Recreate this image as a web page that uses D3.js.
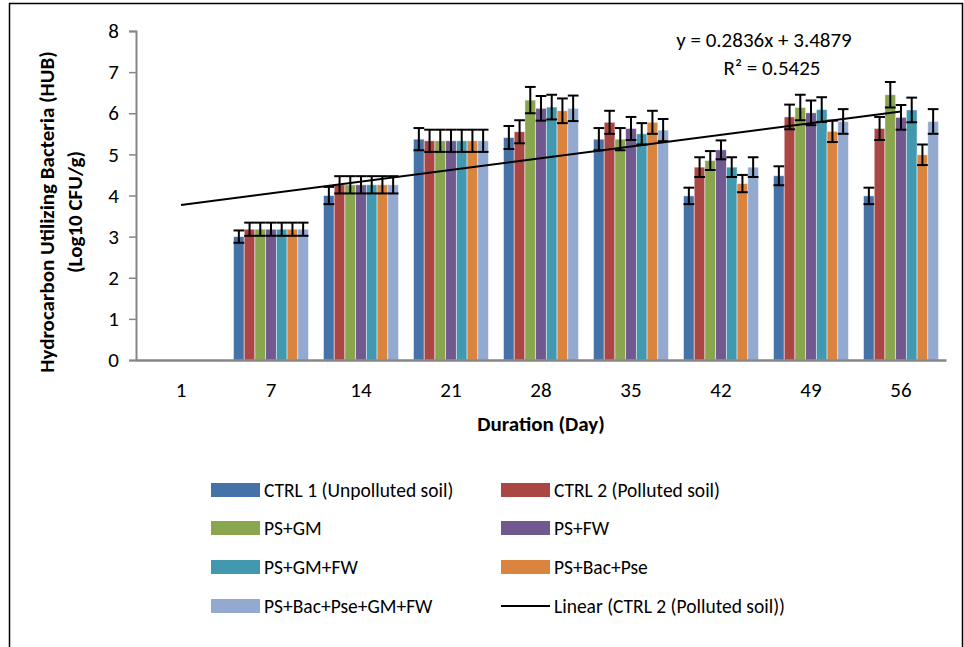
<!DOCTYPE html>
<html>
<head>
    <meta charset="utf-8" />
    <title>HUB counts</title>
    <script src="https://d3js.org/d3.v7.min.js"></script>
    <style>
        body { margin: 0; background: #fff; }
        text { font-family: Carlito, Lato, "Open Sans", sans-serif; fill: #000; }
    </style>
</head>
<body>
    <svg id="chart"></svg>
    <script>
        // days of sampling
        var days = ['1', '7', '14', '21', '28', '35', '42', '49', '56']
        var series = ['CTRL 1 (Unpolluted soil)', 'CTRL 2 (Polluted soil)', 'PS+GM', 'PS+FW',
            'PS+GM+FW', 'PS+Bac+Pse', 'PS+Bac+Pse+GM+FW']
        var colors = ['#4572A7', '#AA4643', '#89A54E', '#71588F', '#4198AF', '#DB843D', '#93A9CF']

        // mean values per series (one value per day)
        var ctrl1 = [0, 3.00, 4.00, 5.37, 5.41, 5.37, 3.99, 4.48, 3.99]
        var ctrl2 = [0, 3.18, 4.26, 5.33, 5.55, 5.78, 4.69, 5.91, 5.63]
        var psGm = [0, 3.18, 4.26, 5.33, 6.32, 5.37, 4.85, 6.14, 6.45]
        var psFw = [0, 3.18, 4.26, 5.33, 6.12, 5.63, 5.11, 6.01, 5.90]
        var psGmFw = [0, 3.18, 4.26, 5.33, 6.15, 5.50, 4.69, 6.09, 6.08]
        var psBacPse = [0, 3.18, 4.26, 5.33, 6.06, 5.78, 4.29, 5.56, 4.99]
        var psAll = [0, 3.18, 4.26, 5.33, 6.12, 5.59, 4.69, 5.80, 5.80]

        // error (+/-) per series
        var ctrl1Err = [0, 0.15, 0.21, 0.27, 0.28, 0.27, 0.20, 0.23, 0.20]
        var ctrl2Err = [0, 0.16, 0.21, 0.27, 0.28, 0.28, 0.24, 0.30, 0.28]
        var psGmErr = [0, 0.16, 0.21, 0.27, 0.32, 0.27, 0.23, 0.31, 0.31]
        var psFwErr = [0, 0.16, 0.21, 0.27, 0.30, 0.28, 0.23, 0.30, 0.30]
        var psGmFwErr = [0, 0.16, 0.21, 0.27, 0.30, 0.26, 0.24, 0.30, 0.30]
        var psBacPseErr = [0, 0.16, 0.21, 0.27, 0.30, 0.28, 0.21, 0.26, 0.25]
        var psAllErr = [0, 0.16, 0.21, 0.27, 0.31, 0.27, 0.24, 0.30, 0.30]

        var yTicks = [0, 1, 2, 3, 4, 5, 6, 7, 8]

        // trendline printed on chart (Linear of CTRL 2)
        var trendSlope = 0.2836
        var trendIntercept = 3.4879
        var trendR2 = 0.5425

        var values = [ctrl1, ctrl2, psGm, psFw, psGmFw, psBacPse, psAll]
        var errors = [ctrl1Err, ctrl2Err, psGmErr, psFwErr, psGmFwErr, psBacPseErr, psAllErr]

        var W = 964, H = 647
        var plotLeft = 136, plotRight = 946, plotTop = 31, plotBottom = 360

        var svg = d3.select('#chart').attr('width', W).attr('height', H)

        // outer frame (bottom edge runs off the picture)
        svg.append('rect')
            .attr('x', 9.5).attr('y', 3.5)
            .attr('width', 953).attr('height', 700)
            .attr('fill', 'none').attr('stroke', '#000').attr('stroke-width', 1.5)

        var x = d3.scaleBand().domain(days).range([plotLeft, plotRight]).paddingInner(0.1667).paddingOuter(0.0833)
        var x1 = d3.scaleBand().domain(d3.range(series.length)).range([0, x.bandwidth()])
        var y = d3.scaleLinear().domain([0, 8]).range([plotBottom, plotTop])

        // bars
        var groups = svg.append('g').selectAll('g')
            .data(days)
            .join('g')
            .attr('transform', d => `translate(${x(d)},0)`)

        groups.each(function (d, di) {
            var g = d3.select(this)
            for (var s = 0; s < series.length; s++) {
                var v = values[s][di]
                if (v <= 0) continue
                g.append('rect')
                    .attr('x', x1(s))
                    .attr('y', y(v))
                    .attr('width', x1.bandwidth())
                    .attr('height', y(0) - y(v))
                    .attr('fill', colors[s])
                    .attr('stroke', '#fff')
                    .attr('stroke-opacity', 0.6)
                    .attr('stroke-width', 0.8)
            }
        })

        // error bars
        groups.each(function (d, di) {
            var g = d3.select(this)
            for (var s = 0; s < series.length; s++) {
                var v = values[s][di], e = errors[s][di]
                if (v <= 0) continue
                var cx = x1(s) + x1.bandwidth() / 2
                var hw = x1.bandwidth() / 2
                var eb = g.append('g').attr('stroke', '#000').attr('stroke-width', 2)
                eb.append('line').attr('x1', cx).attr('x2', cx).attr('y1', y(v + e)).attr('y2', y(v - e))
                eb.append('line').attr('x1', cx - hw).attr('x2', cx + hw).attr('y1', y(v + e)).attr('y2', y(v + e))
                eb.append('line').attr('x1', cx - hw).attr('x2', cx + hw).attr('y1', y(v - e)).attr('y2', y(v - e))
            }
        })

        // y axis
        var yAxis = d3.axisLeft(y).tickValues(yTicks).tickSize(7).tickPadding(10).tickFormat(d3.format('d'))
        var ya = svg.append('g').attr('transform', `translate(${plotLeft},0)`).call(yAxis)
        ya.select('.domain').attr('stroke', '#868686').attr('stroke-width', 2)
        ya.selectAll('.tick line').attr('stroke', '#868686').attr('stroke-width', 1.5)
        ya.selectAll('.tick text').style('font-size', '21px').attr('fill', '#000')
            .style('font-family', 'Carlito, Lato, sans-serif')

        // x axis
        var xAxis = d3.axisBottom(x).tickSize(0).tickPadding(22)
        var xa = svg.append('g').attr('transform', `translate(0,${plotBottom})`).call(xAxis)
        xa.select('.domain').attr('stroke', '#868686').attr('stroke-width', 2.5)
        xa.selectAll('.tick text').style('font-size', '21px').attr('fill', '#000')
            .style('font-family', 'Carlito, Lato, sans-serif')

        // trend line
        var trendPts = [1, days.length].map(i => [x(days[i - 1]) + x.bandwidth() / 2, y(trendSlope * i + trendIntercept)])
        svg.append('path')
            .attr('d', d3.line()(trendPts))
            .attr('stroke', '#000').attr('stroke-width', 2).attr('fill', 'none')

        svg.append('text').attr('x', 764).attr('y', 47).attr('text-anchor', 'middle')
            .style('font-size', '21px')
            .text(`y = ${trendSlope}x + ${trendIntercept}`)
        svg.append('text').attr('x', 772).attr('y', 75).attr('text-anchor', 'middle')
            .style('font-size', '21px')
            .text(`R² = ${trendR2}`)

        // axis titles
        var yt = svg.append('text')
            .attr('transform', 'translate(54,212) rotate(-90)')
            .attr('text-anchor', 'middle')
            .style('font-size', '21px').style('font-weight', 'bold')
        yt.append('tspan').attr('x', 0).attr('dy', 0).text('Hydrocarbon Utilizing Bacteria (HUB)')
        yt.append('tspan').attr('x', 0).attr('dy', 28).text('(Log10 CFU/g)')

        svg.append('text').attr('x', 541).attr('y', 431).attr('text-anchor', 'middle')
            .style('font-size', '21px').style('font-weight', 'bold')
            .text('Duration (Day)')

        // legend
        var legendItems = series.map((s, i) => ({ name: s, color: colors[i], type: 'rect' }))
        legendItems.push({ name: 'Linear (CTRL 2 (Polluted soil))', color: '#000', type: 'line' })
        var legendRows = [490, 528, 567, 606]
        var legendCols = [211, 501]

        var lg = svg.append('g').selectAll('g')
            .data(legendItems)
            .join('g')
            .attr('transform', (d, i) => `translate(${legendCols[i % 2]},${legendRows[Math.floor(i / 2)]})`)

        lg.each(function (d) {
            var g = d3.select(this)
            if (d.type == 'rect') {
                g.append('rect').attr('x', 0).attr('y', -7).attr('width', 49).attr('height', 14).attr('fill', d.color)
            } else {
                g.append('line').attr('x1', 0).attr('x2', 49).attr('y1', 0).attr('y2', 0)
                    .attr('stroke', '#000').attr('stroke-width', 2)
            }
            g.append('text').attr('x', 53).attr('y', 7).style('font-size', '19.5px').text(d.name)
        })
    </script>
</body>
</html>
